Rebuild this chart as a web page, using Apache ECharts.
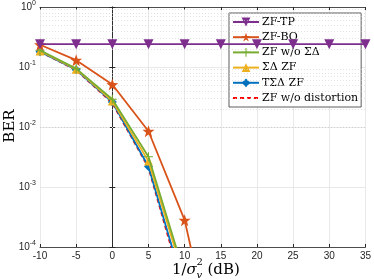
<!DOCTYPE html>
<html><head><meta charset="utf-8">
<script src="https://cdn.jsdelivr.net/npm/echarts@6/dist/echarts.min.js"></script>
<style>html,body{margin:0;padding:0;background:#fff}#c{width:374px;height:280px}</style>
</head><body><div id="c"></div>
<script>
var snr = [-10, -5, 0, 5, 10, 15, 20, 25, 30, 35];
var zfTP = [0.24, 0.24, 0.24, 0.24, 0.24, 0.24, 0.24, 0.24, 0.24, 0.24];
var zfBO = [0.235, 0.13, 0.051, 0.0085, 0.00028, 6e-7];
var zfNoSD = [0.19, 0.094, 0.029, 0.0032, 0.000034];
var sdZF = [0.185, 0.092, 0.027, 0.0027, 0.000028];
var tsdZF = [0.18, 0.09, 0.026, 0.0022, 0.000019];
var zfNoDist = [0.18, 0.089, 0.025, 0.0021, 0.000016];
var names = ['ZF-TP', 'ZF-BO', 'ZF w/o ΣΔ', 'ΣΔ ZF', 'TΣΔ ZF', 'ZF w/o distortion'];
var colors = ['#7E2F8E', '#D95319', '#77AC30', '#EDB120', '#0072BD', '#FF0000'];
var yTicks = [1e-4, 1e-3, 1e-2, 1e-1, 1];
var xTicks = [-10, -5, 0, 5, 10, 15, 20, 25, 30, 35];

function pairs(arr) { return arr.map(function (v, i) { return [snr[i], v]; }); }
var minorVals = [];
for (var e = -4; e < 0; e++) for (var m = 2; m <= 9; m++) minorVals.push(m * Math.pow(10, e));

var star = 'path://M0,-10 L2.35,-3.24 L9.51,-3.09 L3.8,1.24 L5.88,8.09 L0,4 L-5.88,8.09 L-3.8,1.24 L-9.51,-3.09 L-2.35,-3.24 Z';
var plus = 'path://M-1.2,-10 L1.2,-10 L1.2,-1.2 L10,-1.2 L10,1.2 L1.2,1.2 L1.2,10 L-1.2,10 L-1.2,1.2 L-10,1.2 L-10,-1.2 L-1.2,-1.2 Z';
var tri = 'path://M0,-10 L9,6 L-9,6 Z';
var triDown = 'path://M0,10 L9,-6 L-9,-6 Z';
var diamond = 'path://M0,-10 L7,0 L0,10 L-7,0 Z';

var dataSets = [zfTP, zfBO, zfNoSD, sdZF, tsdZF, zfNoDist];
var symbols = [triDown, star, plus, tri, diamond, 'none'];
var sizes = [10, 12, 9, 9, 9, 0];

var series = dataSets.map(function (d, i) {
  var s = {
    name: names[i], type: 'line', data: pairs(d), clip: true,
    symbol: symbols[i], symbolSize: sizes[i], showSymbol: i !== 5,
    lineStyle: { color: colors[i], width: 1.8, type: i === 5 ? [4, 3] : 'solid' },
    itemStyle: { color: colors[i] },
    z: 10 - i, animation: false
  };
  if (i === 0) {
    s.markLine = {
      silent: true, symbol: 'none', label: { show: false }, animation: false,
      lineStyle: { color: '#d0d0d0', type: [1, 2], width: 0.6 },
      data: minorVals.map(function (v) { return { yAxis: v }; })
    };
  }
  return s;
});

var legendData = names.map(function (n, i) {
  return i === 5 ? { name: n, itemStyle: { opacity: 0 } } : { name: n };
});

var chart = echarts.init(document.getElementById('c'));
var tickFont = { fontFamily: 'Liberation Sans', fontSize: 10, color: '#262626' };
var axisLineStyle = { show: true, lineStyle: { color: '#262626', width: 0.8 } };
var tickStyle = { show: true, inside: true, length: 3, lineStyle: { color: '#262626' } };
chart.setOption({
  animation: false,
  color: colors,
  grid: { left: 40, right: 3, top: 6, bottom: 33 },
  legend: {
    left: 229, top: 13, orient: 'vertical', itemWidth: 26, itemHeight: 11, itemGap: 3.2,
    backgroundColor: '#fff', borderColor: '#333', borderWidth: 0.8, padding: [3, 3, 3, 3],
    textStyle: { fontFamily: 'DejaVu Serif', fontSize: 11, lineHeight: 12, color: '#000', padding: [0, 0, 0, -2] },
    data: legendData
  },
  xAxis: [{
    type: 'value', min: -10, max: 35, interval: 5,
    axisLine: axisLineStyle, axisTick: tickStyle,
    axisLabel: Object.assign({ margin: 4 }, tickFont),
    splitLine: { show: true, lineStyle: { color: '#e3e3e3', width: 0.8 } }
  }, {
    type: 'value', position: 'top', min: -10, max: 35, interval: 5,
    axisLine: axisLineStyle, axisTick: tickStyle,
    axisLabel: { show: false }, splitLine: { show: false }
  }],
  yAxis: [{
    type: 'log', logBase: 10, min: 1e-4, max: 1,
    axisLine: axisLineStyle, axisTick: tickStyle,
    axisLabel: {
      margin: 4, fontFamily: 'Liberation Sans', fontSize: 10, color: '#262626',
      formatter: function (v) { return '10{s|' + Math.round(Math.log10(v)) + '}'; },
      rich: { s: { fontFamily: 'Liberation Sans', fontSize: 7, color: '#262626', verticalAlign: 'bottom', padding: [0, 0, 7, 0] } }
    },
    splitLine: { show: true, lineStyle: { color: '#e3e3e3', width: 0.8 } }
  }, {
    type: 'log', logBase: 10, min: 1e-4, max: 1, position: 'right',
    axisLine: axisLineStyle, axisTick: tickStyle,
    axisLabel: { show: false }, splitLine: { show: false }
  }],
  graphic: [
    { type: 'text', x: 10, y: 126, rotation: Math.PI / 2, style: { text: 'BER', font: '15px "DejaVu Serif"', fill: '#000', align: 'center', verticalAlign: 'middle' } },
    { type: 'text', x: 172, y: 270.5, style: { text: '1/', font: '15px "DejaVu Serif"', fill: '#000', verticalAlign: 'middle' } },
    { type: 'text', x: 186.6, y: 270.5, style: { text: 'σ', font: 'italic 15px "DejaVu Serif"', fill: '#000', verticalAlign: 'middle' } },
    { type: 'text', x: 196.5, y: 275, style: { text: 'v', font: 'italic 10px "DejaVu Serif"', fill: '#000', verticalAlign: 'middle' } },
    { type: 'text', x: 196.5, y: 262, style: { text: '2', font: '10px "DejaVu Serif"', fill: '#000', verticalAlign: 'middle' } },
    { type: 'text', x: 207.5, y: 270.5, style: { text: '(dB)', font: '15px "DejaVu Serif"', fill: '#000', verticalAlign: 'middle' } }
  ],
  series: series
});
</script></body></html>
